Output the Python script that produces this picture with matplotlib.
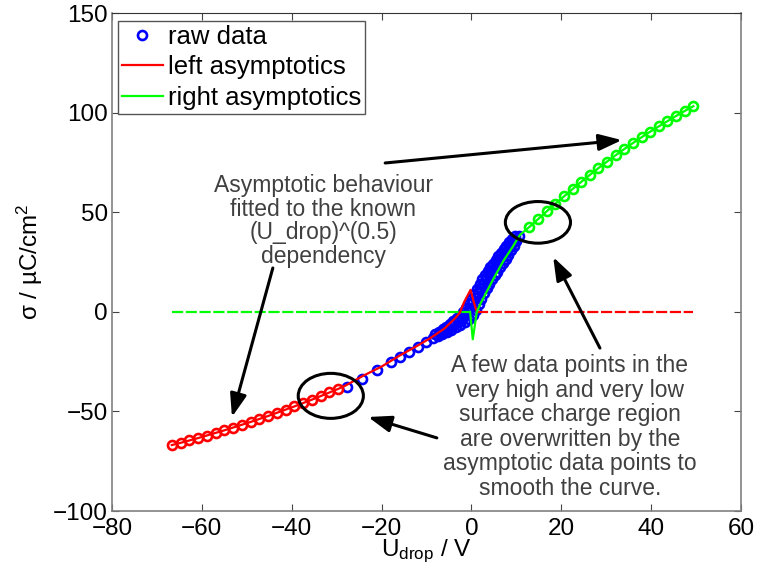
import numpy as np
import matplotlib
matplotlib.use("Agg")
import matplotlib.pyplot as plt
from matplotlib.patches import Ellipse

plt.rcParams['font.family'] = ['Liberation Sans', 'DejaVu Sans']
plt.rcParams['mathtext.fontset'] = 'custom'
plt.rcParams['mathtext.rm'] = 'Liberation Sans'
plt.rcParams['mathtext.it'] = 'Liberation Sans:italic'

# raw data (branches of the measured loop)
raw_u = [-27.8, -24.3, -21.1, -17.8, -15.9, -14.0, -11.8, -10.0, -8.5, -7.5, -6.5, -5.5,
         -4.5, -3.5, -2.5, -1.5, -0.5, 0.3, 1.0, 1.6, 2.2, 2.8, 3.4, 4.0, 4.6, 5.2, 5.8,
         6.4, 7.0, 7.6, 8.2, 8.8, 9.4, 10.0, 10.6,
         -8.0, -7.2, -6.4, -5.6, -4.8, -4.0, -3.2, -2.5, -1.8, -1.2, -0.6, 0.0, 0.6, 1.2,
         1.8, 2.4, 3.0, 3.6, 4.2, 4.8, 5.4, 6.0, 6.6, 7.2, 7.8, 8.4, 9.0, 9.6,
         -7.0, -6.0, -5.0, -4.0, -3.0, -2.0, -1.2, -0.5, 0.2, 0.8, 1.4, 2.0, 2.6, 3.2,
         3.8, 4.4, 5.0, 5.6, 6.2, 6.8, 7.4, 8.0, 8.6, 9.2, 9.8]
raw_sigma = [-37.6, -33.5, -29.4, -25.4, -22.6, -20.4, -17.6, -15.2, -13.4, -12.3, -11.2, -10.2,
             -9.0, -7.8, -6.6, -5.3, -3.8, -1.8, 1.0, 3.8, 6.5, 9.2, 11.8, 14.2, 16.4, 18.3, 20.2,
             22.4, 24.5, 26.6, 28.7, 30.8, 33.0, 35.5, 38.0,
             -11.2, -9.9, -8.6, -7.4, -6.0, -4.7, -3.3, -1.9, -0.3, 1.8, 4.2, 6.6, 9.0, 11.6,
             14.0, 16.4, 18.6, 20.6, 22.4, 24.2, 26.0, 27.8, 29.6, 31.4, 33.2, 35.0, 36.6, 38.0,
             -11.0, -9.6, -8.2, -6.8, -5.2, -3.4, -1.2, 1.4, 4.2, 6.8, 9.4, 11.8, 14.2, 16.4,
             18.4, 20.4, 22.2, 24.0, 25.8, 27.6, 29.4, 31.2, 33.0, 34.8, 36.6]

# left asymptotic points (overwritten raw data) and fitted curve
left_u = [-66.7, -64.75, -62.8, -60.85, -58.9, -56.95, -55.0, -53.05, -51.1, -49.15,
          -47.2, -45.25, -43.3, -41.35, -39.4, -37.45, -35.5, -33.55, -31.6, -29.65]
left_sigma = [-66.9, -65.8, -64.6, -63.4, -62.1, -60.8, -59.5, -58.1, -56.7, -55.3,
              -53.8, -52.3, -50.7, -49.1, -47.5, -45.8, -44.1, -42.3, -40.5, -38.7]
left_ext_u = [-28.0, -24.0, -20.0, -16.0, -12.0, -9.2, -6.0, -3.7, -2.6, -1.6, -0.2, 0.6, 1.2]
left_ext_sigma = [-37.0, -32.0, -27.5, -22.0, -17.0, -13.3, -8.4, -3.4, -0.5, 5.0, 11.0, 4.3, 0.0]
left_flat_u = [1.2, 49.4]
left_flat_sigma = [0.0, 0.0]

# right asymptotic points and fitted curve
right_u = [12.9, 14.82, 16.74, 18.66, 20.58, 22.5, 24.42, 26.34, 28.26, 30.18,
           32.1, 34.02, 35.94, 37.86, 39.78, 41.7, 43.62, 45.54, 47.46, 49.38]
right_sigma = [42.6, 46.5, 50.4, 54.2, 57.9, 61.6, 65.2, 68.7, 72.1, 75.4,
               78.6, 81.7, 84.7, 87.6, 90.4, 93.1, 95.7, 98.3, 100.8, 103.2]
right_ext_u = [-0.3, 0.3, 1.2, 2.0, 3.4, 5.0, 7.1, 9.2, 10.8]
right_ext_sigma = [0.0, -13.8, 0.0, 4.0, 10.1, 17.0, 25.5, 32.7, 38.6]
right_flat_u = [-66.7, -0.3]
right_flat_sigma = [0.0, 0.0]

fig = plt.figure(figsize=(7.6, 5.77), dpi=100)
ax = fig.add_axes([112/760, 1 - 511/577, 629/760, 498/577])

red = '#ff0000'
green = '#00ff00'
blue = '#0000ff'

ax.plot(raw_u, raw_sigma, 'o', color=blue, mfc='none', ms=6.5, mew=1.9, label='raw data')
ax.plot(left_flat_u, left_flat_sigma, color=red, lw=1.6, dashes=(5, 1.2))
ax.plot(right_flat_u, right_flat_sigma, color=green, lw=1.6, dashes=(5, 1.2))
ax.plot(left_u, left_sigma, 'o', color=red, mfc='none', ms=6.5, mew=1.9)
ax.plot(left_u + left_ext_u, left_sigma + left_ext_sigma, '-', color=red, lw=1.6,
        label='left asymptotics')
ax.plot(right_u, right_sigma, 'o', color=green, mfc='none', ms=6.5, mew=1.9)
ax.plot(right_ext_u + right_u, right_ext_sigma + right_sigma, '-', color=green, lw=1.6,
        label='right asymptotics')

# annotation ellipses and arrows
for c, w, h in [((14.8, 44.9), 14.5, 20.9), ((-31.3, -42.2), 14.5, 22.6)]:
    ax.add_patch(Ellipse(c, w, h, fill=False, ec='black', lw=2.2, zorder=5))

arrows = [((-44.2, 22.0), (-53.3, -52.8)),
          ((-19.2, 74.7), (33.5, 86.2)),
          ((28.6, -18.2), (18.2, 27.5)),
          ((-7.7, -63.3), (-23.0, -52.8))]
for tail, tip in arrows:
    ax.annotate('', xy=tip, xytext=tail,
                arrowprops=dict(arrowstyle='-|>,head_length=1.4,head_width=0.5',
                                mutation_scale=10, color='black', lw=2.2,
                                shrinkA=0, shrinkB=0), zorder=6)

txt_color = '#404040'
ax.text(-33.0, 45.6, 'Asymptotic behaviour\nfitted to the known\n(U_drop)^(0.5)\ndependency',
        ha='center', va='center', fontsize=16.5, color=txt_color, linespacing=1.05)
ax.text(21.9, -57.8, 'A few data points in the\nvery high and very low\nsurface charge region\n'
        'are overwritten by the\nasymptotic data points to\nsmooth the curve.',
        ha='center', va='center', fontsize=16.5, color=txt_color, linespacing=1.08)

ax.set_xlim(-80, 60)
ax.set_ylim(-100, 150)
ax.set_xticks(np.arange(-80, 61, 20))
ax.set_yticks(np.arange(-100, 151, 50))
ax.tick_params(direction='in', top=True, right=True, length=5, width=0.8,
               labelsize=17.5, color='#444444')
ax.tick_params(axis='x', pad=5)
ax.tick_params(axis='y', pad=3)
for side in ['left', 'bottom', 'right']:
    ax.spines[side].set_color('#808080')
    ax.spines[side].set_linewidth(1.2)
ax.spines['top'].set_color('#333333')

ax.set_xlabel('U$_\\mathregular{drop}$ / V', fontsize=17.5, labelpad=-2)
ax.set_ylabel('σ / µC/cm$^\\mathregular{2}$', fontsize=17.5, labelpad=6)

leg = ax.legend(loc='upper left', bbox_to_anchor=(6/629, 1 - 8/498), borderaxespad=0,
                fontsize=18.5, numpoints=1, handlelength=1.6, handletextpad=0.2,
                labelspacing=0.25, borderpad=0.15, fancybox=False, framealpha=1)
leg.get_frame().set_edgecolor('#555555')
leg.get_frame().set_linewidth(1.0)

fig.savefig('out.png', dpi=100)
